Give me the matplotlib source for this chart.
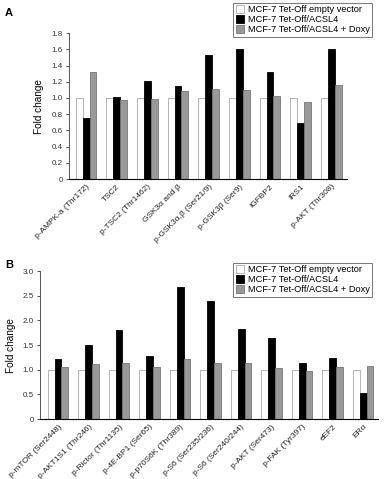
import matplotlib.pyplot as plt
import numpy as np

plt.rcParams['font.family'] = ['Liberation Sans', 'DejaVu Sans']

series_names = ['MCF-7 Tet-Off empty vector', 'MCF-7 Tet-Off/ACSL4', 'MCF-7 Tet-Off/ACSL4 + Doxy']

labels_a = ['p-AMPK-a (Thr172)', 'TSC2', 'p-TSC2 (Thr1462)', 'GSK3α and β',
            'p-GSK3α,β (Ser21/9)', 'p-GSK3β (Ser9)', 'IGFBP2', 'IRS1',
            'p-AKT (Thr308)']
empty_a = [1.0, 1.0, 1.0, 1.0, 1.0, 1.0, 1.0, 1.0, 1.0]
acsl4_a = [0.75, 1.01, 1.21, 1.15, 1.53, 1.60, 1.32, 0.69, 1.60]
doxy_a = [1.32, 0.97, 0.99, 1.09, 1.11, 1.10, 1.02, 0.95, 1.16]

labels_b = ['p-mTOR (Ser2448)', 'p-AKT1S1 (Thr246)', 'p-Rictor (Thr1135)', 'p-4E-BP1 (Ser65)',
            'p-p70S6K (Thr389)', 'p-S6 (Ser235/236)', 'p-S6 (Ser240/244)', 'p-AKT (Ser473)',
            'p-FAK (Tyr397)', 'eEF2', 'ERα']
empty_b = [1.0, 1.0, 1.0, 1.0, 1.0, 1.0, 1.0, 1.0, 1.0, 1.0, 1.0]
acsl4_b = [1.21, 1.51, 1.80, 1.28, 2.67, 2.40, 1.83, 1.64, 1.13, 1.23, 0.53]
doxy_b = [1.06, 1.11, 1.13, 1.05, 1.21, 1.13, 1.14, 1.03, 0.98, 1.06, 1.07]

colors = ['white', 'black', '#999999']
edges = ['#aaaaaa', 'black', '#777777']


def draw_panel(ax, labels, vals, ymax, ystep, xlim):
    x = np.arange(len(labels))
    w = 0.225
    for i, v in enumerate(vals):
        ax.bar(x + (i - 1) * w, v, w, color=colors[i], edgecolor=edges[i],
               linewidth=0.6, label=series_names[i])
    ax.set_xlim(*xlim)
    ax.set_ylim(0, ymax)
    ticks = np.arange(0, ymax + 1e-9, ystep)
    ax.set_yticks(ticks)
    ax.set_yticklabels(['0'] + ['%.1f' % t for t in ticks[1:]])
    ax.set_xticks(x)
    ax.set_xticklabels(labels, rotation=45, ha='right', rotation_mode='anchor',
                       fontsize=6.0, color='#222222')
    ax.tick_params(axis='x', length=0, pad=3)
    ax.tick_params(axis='y', labelsize=5.8, length=2.5, width=0.6, colors='#333333', pad=2)
    for s in ['top', 'right']:
        ax.spines[s].set_visible(False)
    ax.spines['left'].set_color('#555555')
    ax.spines['left'].set_linewidth(0.7)
    ax.spines['bottom'].set_linewidth(0.8)
    ax.set_ylabel('Fold change', fontsize=7.2, labelpad=5)
    leg = ax.legend(loc='upper right', bbox_to_anchor=(1.0, 1.0), fontsize=6.7,
                    frameon=True, fancybox=False, edgecolor='#555555',
                    handlelength=0.9, handleheight=0.9, handletextpad=0.4,
                    labelspacing=0.1, borderpad=0.25, borderaxespad=0)
    leg.get_frame().set_linewidth(0.7)
    return leg


fig = plt.figure(figsize=(3.85, 4.79), dpi=100)

ax_a = fig.add_axes([0.179, 0.626, 0.722, 0.305])
leg_a = draw_panel(ax_a, labels_a, [empty_a, acsl4_a, doxy_a], 1.8, 0.2, (-0.56, 8.51))
leg_a.set_bbox_to_anchor((372 / 385, 1 - 3 / 479), transform=fig.transFigure)

ax_b = fig.add_axes([0.104, 0.125, 0.878, 0.309])
leg_b = draw_panel(ax_b, labels_b, [empty_b, acsl4_b, doxy_b], 3.0, 0.5, (-0.59, 10.49))
leg_b.set_bbox_to_anchor((372 / 385, 1 - 263 / 479), transform=fig.transFigure)

fig.text(5 / 385, 1 - 13 / 479, 'A', fontsize=8, fontweight='bold', va='center')
fig.text(5 / 385, 1 - 265 / 479, 'B', fontsize=8, fontweight='bold', va='center')

fig.savefig('out.png', dpi=100)
